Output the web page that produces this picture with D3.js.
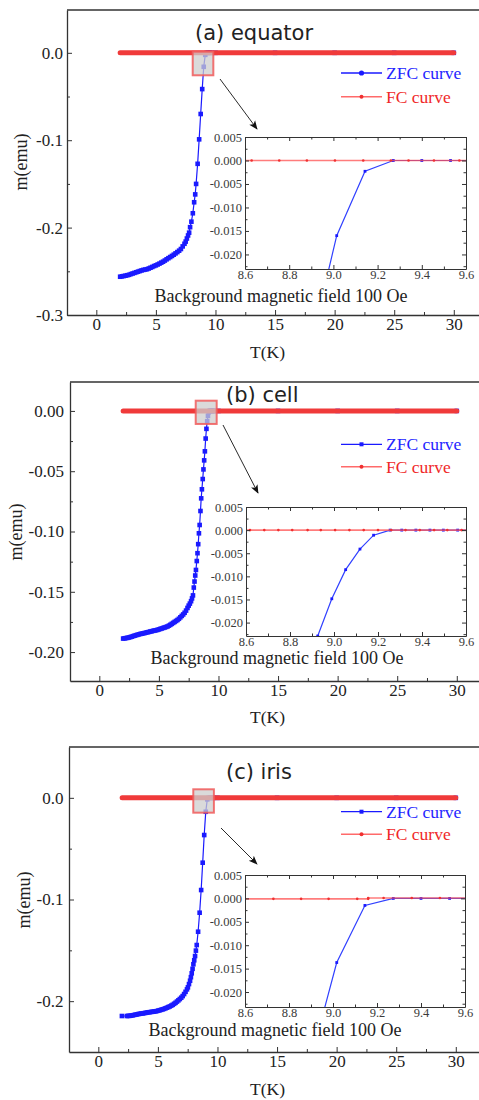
<!DOCTYPE html>
<html>
<head>
<meta charset="utf-8">
<script src="https://cdn.jsdelivr.net/npm/d3@7"></script>
<style>
  body { margin: 0; background: #fff; }
  svg { display: block; }
</style>
</head>
<body>
<script>
// ---- Measured data: magnetic moment m (emu) vs temperature T (K) ----

// Zero-field-cooled curves, [T, m]
const zfcEquator = [
  [2.0,-0.2562],[2.15,-0.2558],[2.3,-0.2554],[2.45,-0.2550],[2.6,-0.2545],[2.75,-0.2540],
  [2.9,-0.2532],[3.05,-0.2525],[3.2,-0.2518],[3.35,-0.2511],[3.5,-0.2504],[3.65,-0.2497],
  [3.8,-0.2490],[3.95,-0.2484],[4.1,-0.2480],[4.25,-0.2476],[4.4,-0.2468],[4.55,-0.2459],
  [4.7,-0.2450],[4.85,-0.2440],[5.0,-0.2432],[5.15,-0.2422],[5.3,-0.2412],[5.45,-0.2401],
  [5.6,-0.2390],[5.75,-0.2377],[5.9,-0.2363],[6.05,-0.2350],[6.2,-0.2337],[6.35,-0.2324],
  [6.5,-0.2310],[6.65,-0.2295],[6.8,-0.2280],[6.95,-0.2264],[7.1,-0.2245],[7.25,-0.2215],
  [7.4,-0.2185],[7.5,-0.2160],[7.6,-0.2125],[7.7,-0.2090],[7.79,-0.2058],[7.87,-0.1995],
  [7.98,-0.1932],[8.1,-0.1836],[8.21,-0.1710],[8.3,-0.1620],[8.375,-0.1500],[8.503,-0.1270],
  [8.631,-0.0990],[8.759,-0.0700],[8.887,-0.0415],[9.015,-0.0160],[9.143,-0.0023],[9.271,0],
  [9.4,0],[9.53,0],[9.66,0],[10,0],[15,0],[20,0],[25,0],[30,0]
];
const zfcCell = [
  [2.0,-0.1888],[2.12,-0.1886],[2.24,-0.1884],[2.36,-0.1882],[2.48,-0.1879],[2.6,-0.1876],
  [2.72,-0.1872],[2.84,-0.1868],[2.96,-0.1864],[3.08,-0.1860],[3.2,-0.1857],[3.32,-0.1853],
  [3.44,-0.1850],[3.56,-0.1847],[3.68,-0.1845],[3.8,-0.1842],[3.92,-0.1839],[4.04,-0.1836],
  [4.16,-0.1833],[4.28,-0.1830],[4.4,-0.1827],[4.52,-0.1824],[4.64,-0.1821],[4.76,-0.1819],
  [4.88,-0.1816],[5.0,-0.1812],[5.12,-0.1808],[5.24,-0.1804],[5.36,-0.1800],[5.48,-0.1796],
  [5.6,-0.1792],[5.72,-0.1788],[5.84,-0.1781],[5.96,-0.1774],[6.08,-0.1766],[6.2,-0.1758],
  [6.32,-0.1750],[6.44,-0.1742],[6.56,-0.1734],[6.68,-0.1724],[6.8,-0.1712],[6.92,-0.1700],
  [7.04,-0.1688],[7.16,-0.1674],[7.28,-0.1656],[7.4,-0.1634],[7.5,-0.1615],[7.6,-0.1598],
  [7.7,-0.1578],[7.78,-0.1555],[7.86,-0.1530],[7.93,-0.1465],[7.99,-0.1415],[8.05,-0.1365],
  [8.11,-0.1319],[8.18,-0.1245],[8.24,-0.1180],[8.30,-0.1105],[8.36,-0.1015],[8.42,-0.0946],
  [8.49,-0.0830],[8.55,-0.0725],[8.61,-0.0650],[8.68,-0.0565],[8.74,-0.0485],[8.80,-0.0410],
  [8.86,-0.0335],[8.926,-0.0229],[8.99,-0.01485],[9.053,-0.00855],[9.118,-0.0041],[9.18,-0.0011],
  [9.255,0],[9.308,0],[9.372,0],[9.436,0],[9.497,0],[9.562,0],[9.63,0],
  [10,0],[15,0],[20,0],[25,0],[30,0]
];
const zfcIris = [
  [1.98,-0.2146],[2.4,-0.2146],[2.52,-0.2145],[2.64,-0.2144],[2.76,-0.2142],[2.88,-0.2139],
  [3.0,-0.2136],[3.12,-0.2133],[3.24,-0.2130],[3.36,-0.2127],[3.48,-0.2124],[3.6,-0.2122],
  [3.72,-0.2120],[3.84,-0.2118],[3.96,-0.2115],[4.08,-0.2112],[4.2,-0.2110],[4.32,-0.2108],
  [4.44,-0.2106],[4.56,-0.2104],[4.68,-0.2102],[4.8,-0.2100],[4.92,-0.2097],[5.04,-0.2093],
  [5.16,-0.2089],[5.28,-0.2085],[5.4,-0.2080],[5.52,-0.2076],[5.64,-0.2070],[5.76,-0.2064],
  [5.88,-0.2058],[6.0,-0.2052],[6.12,-0.2044],[6.24,-0.2036],[6.36,-0.2026],[6.48,-0.2016],
  [6.6,-0.2004],[6.72,-0.1992],[6.84,-0.1979],[6.96,-0.1966],[7.08,-0.1950],[7.2,-0.1930],
  [7.32,-0.1908],[7.44,-0.1884],[7.52,-0.1864],[7.61,-0.1832],[7.70,-0.1799],[7.77,-0.1764],
  [7.84,-0.1726],[7.91,-0.1682],[7.98,-0.1637],[8.05,-0.1598],[8.12,-0.1556],[8.19,-0.1503],
  [8.26,-0.1448],[8.375,-0.1317],[8.503,-0.1130],[8.631,-0.0907],[8.759,-0.0638],[8.887,-0.0366],
  [9.017,-0.0137],[9.145,-0.0015],[9.274,0],[9.40,0],[9.53,0],[9.66,0],
  [10,0],[15,0],[20,0],[25,0],[30,0]
];

// Field-cooled curve over the full range (flat at zero for all three samples), [T, m]
const fcMain = [
  [2,0],[3,0],[4,0],[5,0],[6,0],[7,0],[8,0],[9,0],[10,0],[11,0],[12,0],[13,0],[14,0],[15,0],
  [16,0],[17,0],[18,0],[19,0],[20,0],[21,0],[22,0],[23,0],[24,0],[25,0],[26,0],[27,0],[28,0],
  [29,0],[30,0]
];
// Field-cooled points around the transition, as seen in the zoomed views, [T, m]
const fcZoomEquator = [
  [8.5,0],[8.63,0],[8.755,0],[8.88,0],[9.007,0],[9.135,0],[9.26,0],[9.34,0],[9.455,0],[9.57,0],[9.69,0]
];
const fcZoomCell = [
  [8.555,0],[8.618,0],[8.683,0],[8.747,0],[8.81,0],[8.88,0],[8.94,0],[9.005,0],[9.07,0],
  [9.135,0],[9.2,0],[9.26,0],[9.325,0],[9.39,0],[9.455,0],[9.515,0],[9.58,0],[9.645,0]
];
const fcZoomIris = [
  [8.5,-0.0001],[8.6,-0.0001],[8.729,-0.0001],[8.855,-0.0001],[8.98,-0.0001],[9.11,-0.0001],
  [9.16,-0.0001],[9.16,0.0001],[9.23,0.0001],[9.358,0.0001],[9.486,0.0001],[9.61,0.0001]
];

// Tick values
const tMajorTicks = [0, 5, 10, 15, 20, 25, 30];
const tMinorTicks = [2.5, 7.5, 12.5, 17.5, 22.5, 27.5];
const zoomTMajorTicks = [8.6, 8.8, 9.0, 9.2, 9.4, 9.6];
const zoomTMinorTicks = [8.7, 8.9, 9.1, 9.3, 9.5];
const zoomMMajorTicks = [-0.020, -0.015, -0.010, -0.005, 0.000, 0.005];
const zoomMMinorTicks = [-0.0225, -0.0175, -0.0125, -0.0075, -0.0025, 0.0025];
const mMajorTicksEquator = [0, -0.1, -0.2, -0.3];
const mMinorTicksEquator = [-0.05, -0.15, -0.25];
const mMajorTicksCell = [0, -0.05, -0.10, -0.15, -0.20];
const mMinorTicksCell = [-0.025, -0.075, -0.125, -0.175];
const mMajorTicksIris = [0, -0.1, -0.2];
const mMinorTicksIris = [-0.05, -0.15];

const titles = ["(a) equator", "(b) cell", "(c) iris"];
const seriesNames = ["ZFC curve", "FC curve"];
const noteText = "Background magnetic field 100 Oe";
const xTitle = "T(K)";
const yTitle = "m(emu)";

// ---- Drawing ----
const W = 479, H = 1100;
const SERIF = '"Liberation Serif","Times New Roman",serif';
const SANS = '"DejaVu Sans","Noto Sans",sans-serif';
const BLUE = "#1a1aff";
const RED = "#f03a3a";
const AXIS = "#333";
const TEXT = "#222";

const svg = d3.select("body").append("svg")
  .attr("width", W).attr("height", H)
  .attr("viewBox", `0 0 ${W} ${H}`);

const defs = svg.append("defs");
defs.append("marker")
  .attr("id", "arrowhead")
  .attr("viewBox", "0 0 10 10")
  .attr("refX", 9).attr("refY", 5)
  .attr("markerWidth", 9).attr("markerHeight", 9)
  .attr("markerUnits", "userSpaceOnUse")
  .attr("orient", "auto")
  .append("path").attr("d", "M0,1 L10,5 L0,9 L2.5,5 Z").attr("fill", "#111");

function fmt(spec) {
  const f = d3.format(spec);
  return d => f(d).replace("\u2212", "-");
}

const panels = [
  {
    id: "a", title: titles[0], titleX: 195, titleY: 40,
    left: 67, top: 10, bottom: 315, mDomain: [-0.3, 0.049],
    mMajor: mMajorTicksEquator, mMinor: mMinorTicksEquator, mFormat: fmt(".1f"),
    zfc: zfcEquator, fcZoom: fcZoomEquator, legendMarker: "circle",
    box: [8.09, 9.82, 0.0013, -0.0257],
    arrow: [[220, 79], [257, 129]],
    legendY: 73, legendY2: 96.7,
    zoom: { left: 245, top: 137, right: 466, bottom: 269, mDomain: [-0.0231, 0.005] },
    noteX: 281, noteY: 302, xTitleY: 358, yTitleX: 27, yTitleY: 162, labelGap: 4
  },
  {
    id: "b", title: titles[1], titleX: 226, titleY: 402,
    left: 70, top: 382, bottom: 681, mDomain: [-0.224, 0.024],
    mMajor: mMajorTicksCell, mMinor: mMinorTicksCell, mFormat: fmt(".2f"),
    zfc: zfcCell, fcZoom: fcZoomCell, legendMarker: "square",
    box: [8.09, 9.85, 0.0085, -0.0108],
    arrow: [[223, 425], [258, 493]],
    legendY: 444.3, legendY2: 466.7,
    zoom: { left: 246, top: 507, right: 466, bottom: 636, mDomain: [-0.0229, 0.005] },
    noteX: 277, noteY: 664, xTitleY: 723, yTitleX: 22, yTitleY: 532, labelGap: 6
  },
  {
    id: "c", title: titles[2], titleX: 226, titleY: 779,
    left: 69, top: 747, bottom: 1052, mDomain: [-0.25, 0.05],
    mMajor: mMajorTicksIris, mMinor: mMinorTicksIris, mFormat: fmt(".1f"),
    zfc: zfcIris, fcZoom: fcZoomIris, legendMarker: "square",
    box: [7.97, 9.70, 0.0084, -0.0146],
    arrow: [[221, 828], [257, 864]],
    legendY: 811.7, legendY2: 834.3,
    zoom: { left: 245, top: 875, right: 465, bottom: 1007, mDomain: [-0.0232, 0.005] },
    noteX: 275, noteY: 1036, xTitleY: 1095, yTitleX: 30, yTitleY: 900, labelGap: 5.5
  }
];

panels.forEach(drawPanel);

function styleAxis(sel, fontSize, family, color) {
  sel.selectAll("path.domain").attr("stroke", AXIS).attr("stroke-width", 1.3);
  sel.selectAll(".tick line").attr("stroke", AXIS).attr("stroke-width", 1);
  sel.selectAll(".tick text")
    .attr("font-family", family).attr("font-size", fontSize).attr("fill", color);
}

function drawPanel(p) {
  const g = svg.append("g").attr("class", "panel-" + p.id);
  const x = d3.scaleLinear().domain([-2.46, 32.2]).range([p.left, p.left + 413]);
  const y = d3.scaleLinear().domain(p.mDomain).range([p.bottom, p.top]);

  const clipId = "clip-" + p.id;
  defs.append("clipPath").attr("id", clipId)
    .append("rect").attr("x", p.left).attr("y", p.top)
    .attr("width", W - p.left + 2).attr("height", p.bottom - p.top);

  // Frame top and right
  g.append("path")
    .attr("d", `M${p.left},${p.top}H${x(32.2)}V${p.bottom}`)
    .attr("fill", "none").attr("stroke", AXIS).attr("stroke-width", 1.3);

  // Axes with inward ticks
  const xg = g.append("g").attr("transform", `translate(0,${p.bottom})`)
    .call(d3.axisBottom(x).tickValues(tMajorTicks).tickSize(-5).tickSizeOuter(0)
      .tickPadding(3).tickFormat(d3.format("d")));
  styleAxis(xg, 17, SERIF, TEXT);
  const xgm = g.append("g").attr("transform", `translate(0,${p.bottom})`)
    .call(d3.axisBottom(x).tickValues(tMinorTicks).tickSize(-3).tickFormat(""));
  xgm.select("path.domain").remove();
  styleAxis(xgm, 17, SERIF, TEXT);

  const yg = g.append("g").attr("transform", `translate(${p.left},0)`)
    .call(d3.axisLeft(y).tickValues(p.mMajor).tickSize(-5).tickSizeOuter(0)
      .tickPadding(p.labelGap).tickFormat(p.mFormat));
  styleAxis(yg, 17, SERIF, TEXT);
  const ygm = g.append("g").attr("transform", `translate(${p.left},0)`)
    .call(d3.axisLeft(y).tickValues(p.mMinor).tickSize(-3).tickFormat(""));
  ygm.select("path.domain").remove();
  styleAxis(ygm, 17, SERIF, TEXT);

  // Data
  const plot = g.append("g").attr("clip-path", `url(#${clipId})`);
  const line = d3.line().x(d => x(d[0])).y(d => y(d[1]));

  plot.append("path").datum(p.zfc).attr("d", line)
    .attr("fill", "none").attr("stroke", BLUE).attr("stroke-width", 1.2);
  plot.append("g").selectAll("rect").data(p.zfc).join("rect")
    .attr("x", d => x(d[0]) - 2.3).attr("y", d => y(d[1]) - 2.3)
    .attr("width", 4.6).attr("height", 4.6).attr("fill", BLUE);

  plot.append("path").datum(fcMain).attr("d", line)
    .attr("fill", "none").attr("stroke", RED).attr("stroke-width", 5)
    .attr("stroke-linecap", "round");

  // Highlight box around the transition region
  const [b0, b1, m0, m1] = p.box;
  g.append("rect")
    .attr("x", x(b0)).attr("y", y(m0))
    .attr("width", x(b1) - x(b0)).attr("height", y(m1) - y(m0))
    .attr("fill", "rgba(205,205,205,0.75)")
    .attr("stroke", "rgba(240,90,90,0.85)").attr("stroke-width", 2);

  // Arrow to the zoomed view
  g.append("line")
    .attr("x1", p.arrow[0][0]).attr("y1", p.arrow[0][1])
    .attr("x2", p.arrow[1][0]).attr("y2", p.arrow[1][1])
    .attr("stroke", "#111").attr("stroke-width", 0.9)
    .attr("marker-end", "url(#arrowhead)");

  // Title
  g.append("text").attr("x", p.titleX).attr("y", p.titleY)
    .attr("font-family", SANS).attr("font-size", 21).attr("fill", TEXT)
    .text(p.title);

  // Legend
  const lx0 = 341, lx1 = 382;
  const lg = g.append("g");
  lg.append("line").attr("x1", lx0).attr("x2", lx1).attr("y1", p.legendY).attr("y2", p.legendY)
    .attr("stroke", BLUE).attr("stroke-width", 1.3);
  if (p.legendMarker === "circle") {
    lg.append("circle").attr("cx", (lx0 + lx1) / 2).attr("cy", p.legendY).attr("r", 2.6).attr("fill", BLUE);
  } else {
    lg.append("rect").attr("x", (lx0 + lx1) / 2 - 2).attr("y", p.legendY - 2)
      .attr("width", 4).attr("height", 4).attr("fill", BLUE);
  }
  lg.append("text").attr("x", 386).attr("y", p.legendY + 6)
    .attr("font-family", SERIF).attr("font-size", 17.5).attr("fill", "#2424ff")
    .text(seriesNames[0]);
  lg.append("line").attr("x1", lx0).attr("x2", lx1).attr("y1", p.legendY2).attr("y2", p.legendY2)
    .attr("stroke", "#ff6a6a").attr("stroke-width", 1.6);
  lg.append("circle").attr("cx", (lx0 + lx1) / 2).attr("cy", p.legendY2).attr("r", 2).attr("fill", "#f03030");
  lg.append("text").attr("x", 386).attr("y", p.legendY2 + 6)
    .attr("font-family", SERIF).attr("font-size", 17.5).attr("fill", "#f02828")
    .text(seriesNames[1]);

  // Zoomed view
  drawZoom(g, p);

  // Note and axis titles
  g.append("text").attr("x", p.noteX).attr("y", p.noteY).attr("text-anchor", "middle")
    .attr("font-family", SERIF).attr("font-size", 18).attr("fill", TEXT)
    .text(noteText);
  g.append("text").attr("x", 267.5).attr("y", p.xTitleY).attr("text-anchor", "middle")
    .attr("font-family", SERIF).attr("font-size", 17.5).attr("fill", TEXT)
    .text(xTitle);
  g.append("text").attr("transform", `translate(${p.yTitleX},${p.yTitleY}) rotate(-90)`)
    .attr("text-anchor", "middle")
    .attr("font-family", SERIF).attr("font-size", 18).attr("fill", TEXT)
    .text(yTitle);
}

function drawZoom(parent, p) {
  const z = p.zoom;
  const g = parent.append("g");
  const x = d3.scaleLinear().domain([8.6, 9.6]).range([z.left, z.right]);
  const y = d3.scaleLinear().domain(z.mDomain).range([z.bottom, z.top]);
  const clipId = "zclip-" + p.id;
  defs.append("clipPath").attr("id", clipId)
    .append("rect").attr("x", z.left).attr("y", z.top)
    .attr("width", z.right - z.left).attr("height", z.bottom - z.top);

  g.append("rect").attr("x", z.left).attr("y", z.top)
    .attr("width", z.right - z.left).attr("height", z.bottom - z.top)
    .attr("fill", "#fff");

  const plot = g.append("g").attr("clip-path", `url(#${clipId})`);
  const line = d3.line().x(d => x(d[0])).y(d => y(d[1]));

  plot.append("path").datum(p.zfc).attr("d", line)
    .attr("fill", "none").attr("stroke", "#3040ff").attr("stroke-width", 1.2);
  plot.append("g").selectAll("rect").data(p.zfc).join("rect")
    .attr("x", d => x(d[0]) - 1.4).attr("y", d => y(d[1]) - 1.4)
    .attr("width", 2.8).attr("height", 2.8).attr("fill", "#1a1aff");

  plot.append("path").datum(p.fcZoom).attr("d", line)
    .attr("fill", "none").attr("stroke", "rgba(255,80,80,0.75)").attr("stroke-width", 1.6);
  plot.append("g").selectAll("circle").data(p.fcZoom).join("circle")
    .attr("cx", d => x(d[0])).attr("cy", d => y(d[1])).attr("r", 1.3)
    .attr("fill", "#f03030");

  const fs = 12.5, col = "#3a3a3a";
  const xb = g.append("g").attr("transform", `translate(0,${z.bottom})`)
    .call(d3.axisBottom(x).tickValues(zoomTMajorTicks).tickSize(-4).tickSizeOuter(0)
      .tickPadding(1).tickFormat(fmt(".1f")));
  styleAxis(xb, fs, SERIF, col);
  const xbm = g.append("g").attr("transform", `translate(0,${z.bottom})`)
    .call(d3.axisBottom(x).tickValues(zoomTMinorTicks).tickSize(-2.5).tickFormat(""));
  xbm.select("path.domain").remove();
  styleAxis(xbm, fs, SERIF, col);

  const xt = g.append("g").attr("transform", `translate(0,${z.top})`)
    .call(d3.axisTop(x).tickValues(zoomTMajorTicks).tickSize(-4).tickSizeOuter(0).tickFormat(""));
  styleAxis(xt, fs, SERIF, col);
  const xtm = g.append("g").attr("transform", `translate(0,${z.top})`)
    .call(d3.axisTop(x).tickValues(zoomTMinorTicks).tickSize(-2.5).tickFormat(""));
  xtm.select("path.domain").remove();
  styleAxis(xtm, fs, SERIF, col);

  const yl = g.append("g").attr("transform", `translate(${z.left},0)`)
    .call(d3.axisLeft(y).tickValues(zoomMMajorTicks).tickSize(-4).tickSizeOuter(0)
      .tickPadding(3).tickFormat(fmt(".3f")));
  styleAxis(yl, fs, SERIF, col);
  const ylm = g.append("g").attr("transform", `translate(${z.left},0)`)
    .call(d3.axisLeft(y).tickValues(zoomMMinorTicks).tickSize(-2.5).tickFormat(""));
  ylm.select("path.domain").remove();
  styleAxis(ylm, fs, SERIF, col);

  const yr = g.append("g").attr("transform", `translate(${z.right},0)`)
    .call(d3.axisRight(y).tickValues(zoomMMajorTicks).tickSize(-4).tickSizeOuter(0).tickFormat(""));
  styleAxis(yr, fs, SERIF, col);
  const yrm = g.append("g").attr("transform", `translate(${z.right},0)`)
    .call(d3.axisRight(y).tickValues(zoomMMinorTicks).tickSize(-2.5).tickFormat(""));
  yrm.select("path.domain").remove();
  styleAxis(yrm, fs, SERIF, col);

  g.selectAll("path.domain").attr("stroke-width", 1);
}
</script>
</body>
</html>
